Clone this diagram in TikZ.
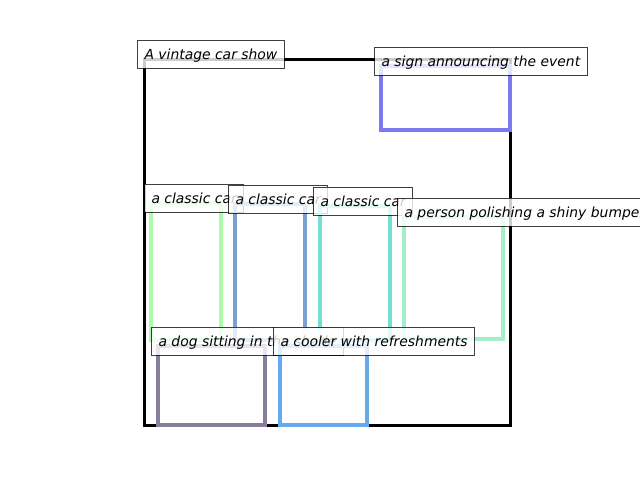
\documentclass[tikz,border=0pt]{standalone}
\usepackage{fontspec}
\setmainfont{DejaVu Sans}
\definecolor{cframe}{RGB}{0,0,0}
\definecolor{csign}{RGB}{122,122,238}
\definecolor{ccarA}{RGB}{172,250,172}
\definecolor{ccarB}{RGB}{122,160,212}
\definecolor{ccarC}{RGB}{114,224,208}
\definecolor{cperson}{RGB}{162,238,202}
\definecolor{cdog}{RGB}{136,126,156}
\definecolor{ccooler}{RGB}{100,170,236}
\tikzset{
  bbox/.style={line width=3.2pt, line join=miter},
  lab/.style={anchor=base west, fill=white, fill opacity=0.8, text opacity=1,
    draw=black, draw opacity=0.75, line width=1pt, inner xsep=7pt, inner ysep=7pt,
    text height=12pt, text depth=2pt,
    font=\fontsize{13.9}{16}\selectfont\itshape}
}
\begin{document}
\begin{tikzpicture}[x=1pt,y=-1pt]
\useasboundingbox (0,0) rectangle (640,480);
\clip (0,0) rectangle (640,480);
% frame
\draw[bbox, cframe, line width=3pt] (144,59) rectangle (510,425);
\node[lab] (lvintage) at (137,59) {A vintage car show};
% sign
\draw[bbox, csign] (381,66) rectangle (510,130);
\node[lab] (lsign) at (374,66) {a sign announcing the event};
% car 1
\draw[bbox, ccarA] (151,203) rectangle (221,340);
\node[lab] (lcarA) at (144,203) {a classic car};
% car 2
\draw[bbox, ccarB] (235,204) rectangle (305,340);
\node[lab] (lcarB) at (228,204) {a classic car};
% car 3
\draw[bbox, ccarC] (320,206) rectangle (390,340);
\node[lab] (lcarC) at (313,206) {a classic car};
% person
\draw[bbox, cperson] (404,217) rectangle (503,339);
\node[lab] (lperson) at (397,217) {a person polishing a shiny bumper};
% dog
\draw[bbox, cdog] (158,346) rectangle (265,425);
\node[lab] (ldog) at (151,346) {a dog sitting in the shade};
% cooler
\draw[bbox, ccooler] (280,346) rectangle (367,425);
\node[lab] (lcooler) at (273,346) {a cooler with refreshments};
\end{tikzpicture}
\end{document}
